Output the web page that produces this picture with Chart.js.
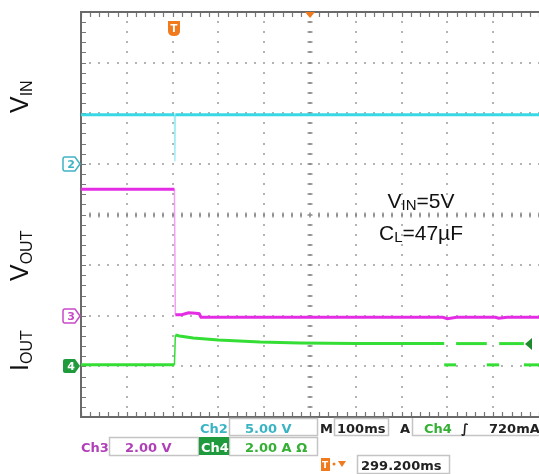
<!DOCTYPE html>
<html>
<head>
<meta charset="utf-8">
<script src="https://cdn.jsdelivr.net/npm/chart.js@4.4.1/dist/chart.umd.min.js"></script>
<style>
  body { margin: 0; background: #fff; }
  #scope { display: block; }
</style>
</head>
<body>
<canvas id="scope" width="539" height="474"></canvas>
<script>
// ------------- TRACE DATA (time in ms, level in screen divisions from the bottom)
const timeVin = [0, 204, 205, 206, 1000];
const vin = [5.97, 5.97, 5.05, 5.97, 5.97];

const timeVout = [0, 204, 206, 220, 235, 250, 258, 262, 500, 790, 800, 820, 905, 912, 930, 1000];
const vout = [4.5, 4.5, 2.02, 2.02, 2.06, 2.05, 2.04, 1.97, 1.97, 1.97, 1.94, 1.97, 1.97, 1.95, 1.97, 1.97];

// null = no trace drawn (the scope jumps between the two current levels)
const timeIout = [0, 204, 206, 215, 245, 300, 391, 478, 600, 793, 793, 793, 819, 819, 819, 886, 886, 886, 913, 913, 913, 967, 967, 967, 1000];
const iout = [1.03, 1.03, 1.62, 1.6, 1.56, 1.52, 1.48, 1.46, 1.45, 1.45, null, 1.03, 1.03, null, 1.45, 1.45, null, 1.03, 1.03, null, 1.45, 1.45, null, 1.03, 1.03];

// ------------- CHANNEL MARKERS / SETTINGS
const channelNames = ['2', '3', '4'];
const channelGround = [5, 2, 1];
const triggerTime = 204;
const triggerLevel = 1.45;

const cyan = 'rgb(56, 216, 230)';
const magenta = 'rgb(228, 44, 228)';
const green = 'rgb(52, 222, 52)';
const orange = 'rgb(240, 122, 30)';

function toXY(xs, ys) {
  return xs.map(function (x, i) { return { x: x, y: ys[i] }; });
}

// ---------- GRATICULE (dotted grid, frame, minor ticks)
const graticule = {
  id: 'graticule',
  beforeDatasetsDraw(chart) {
    const c = chart.ctx, ca = chart.chartArea;
    const sx = chart.scales.x, sy = chart.scales.y;
    c.save();
    c.fillStyle = '#b4b4b4';
    for (let i = 1; i < 10; i++) {
      if (i === 5) continue;
      const px = Math.round(sx.getPixelForValue(i * 100));
      for (let j = 0; j <= 40; j++) {
        c.fillRect(px - 1, Math.round(sy.getPixelForValue(j * 0.2)) - 1, 2, 2);
      }
    }
    for (let j = 1; j < 8; j++) {
      if (j === 4) continue;
      const py = Math.round(sy.getPixelForValue(j));
      for (let i = 0; i <= 50; i++) {
        c.fillRect(Math.round(sx.getPixelForValue(i * 20)) - 1, py - 1, 2, 2);
      }
    }
    // center cross with ticks
    c.strokeStyle = '#8a8a8a';
    c.lineWidth = 1.5;
    const cx = Math.round(sx.getPixelForValue(500)), cy = Math.round(sy.getPixelForValue(4));
    c.beginPath();
    for (let i = 0; i <= 50; i++) {
      const px = Math.round(sx.getPixelForValue(i * 20));
      c.moveTo(px, cy - 2.5); c.lineTo(px, cy + 2.5);
      c.moveTo(px - 1, cy); c.lineTo(px + 1, cy);
    }
    for (let j = 0; j <= 40; j++) {
      const py = Math.round(sy.getPixelForValue(j * 0.2));
      c.moveTo(cx - 2.5, py); c.lineTo(cx + 2.5, py);
      c.moveTo(cx, py - 1); c.lineTo(cx, py + 1);
    }
    c.stroke();
    // frame ticks
    c.strokeStyle = '#777';
    c.lineWidth = 1.2;
    c.beginPath();
    for (let i = 0; i <= 50; i++) {
      const px = Math.round(sx.getPixelForValue(i * 20)) + 0.5;
      c.moveTo(px, ca.top); c.lineTo(px, ca.top + 5);
      c.moveTo(px, ca.bottom); c.lineTo(px, ca.bottom - 5);
    }
    for (let j = 0; j <= 40; j++) {
      const py = Math.round(sy.getPixelForValue(j * 0.2)) + 0.5;
      c.moveTo(ca.left, py); c.lineTo(ca.left + 5, py);
    }
    c.stroke();
    // frame
    c.strokeStyle = '#6a6a6a';
    c.lineWidth = 2;
    c.beginPath();
    c.moveTo(ca.right, ca.top); c.lineTo(ca.left, ca.top); c.lineTo(ca.left, ca.bottom); c.lineTo(ca.right, ca.bottom);
    c.stroke();
    c.restore();
  }
};

// ---------- TEXT WITH SUBSCRIPTS
function runs(c, x, y, parts) {
  let px = x;
  parts.forEach(function (p) {
    c.font = p[1] + 'px "Liberation Sans", Arial, sans-serif';
    c.fillText(p[0], px, y + (p[2] || 0));
    px += c.measureText(p[0]).width;
  });
  return px - x;
}
function runsWidth(c, parts) {
  let w = 0;
  parts.forEach(function (p) {
    c.font = p[1] + 'px "Liberation Sans", Arial, sans-serif';
    w += c.measureText(p[0]).width;
  });
  return w;
}

function chanMarker(c, x, y, col, filled, txt) {
  c.save();
  c.beginPath();
  c.moveTo(x + 2, y - 7); c.lineTo(x + 12, y - 7); c.lineTo(x + 17, y); c.lineTo(x + 12, y + 7);
  c.lineTo(x + 2, y + 7); c.quadraticCurveTo(x, y + 7, x, y + 5); c.lineTo(x, y - 5); c.quadraticCurveTo(x, y - 7, x + 2, y - 7);
  c.closePath();
  if (filled) { c.fillStyle = col; c.fill(); } else { c.fillStyle = '#fff'; c.fill(); c.strokeStyle = col; c.lineWidth = 1.5; c.stroke(); }
  c.fillStyle = filled ? '#fff' : col;
  c.font = 'bold 11px "DejaVu Sans", sans-serif';
  c.textAlign = 'center';
  c.textBaseline = 'middle';
  c.fillText(txt, x + 8, y + 1);
  c.restore();
}

function box(c, x1, y1, x2, y2) {
  c.strokeRect(x1 + 0.5, y1 + 0.5, x2 - x1, y2 - y1);
}

// ---------- LABELS, MARKERS AND STATUS BAR
const overlay = {
  id: 'overlay',
  afterDraw(chart) {
    const c = chart.ctx;
    const sx = chart.scales.x, sy = chart.scales.y;
    c.save();
    c.fillStyle = '#111';
    c.textBaseline = 'alphabetic';
    c.textAlign = 'left';

    // rotated signal names
    [[113, [['V', 25], ['IN', 16, 4]]], [281, [['V', 25], ['OUT', 16, 4]]], [371, [['I', 25], ['OUT', 16, 4]]]].forEach(function (l) {
      c.save();
      c.translate(28, l[0]);
      c.rotate(-Math.PI / 2);
      runs(c, 0, 0, l[1]);
      c.restore();
    });

    // annotation
    const a1 = [['V', 21], ['IN', 15, 2], ['=5V', 21]];
    const a2 = [['C', 21], ['L', 15, 2], ['=47\u00b5F', 21]];
    runs(c, 421 - runsWidth(c, a1) / 2, 208, a1);
    runs(c, 421 - runsWidth(c, a2) / 2, 240, a2);

    // channel ground markers
    const cols = [cyan, '#c84cc8', '#1f9a3c'];
    channelNames.forEach(function (n, i) {
      chanMarker(c, 63, Math.round(sy.getPixelForValue(channelGround[i])), i === 0 ? '#40b4c4' : cols[i], i === 2, n);
    });

    // trigger marker (top)
    const tx = Math.round(sx.getPixelForValue(triggerTime));
    c.fillStyle = orange;
    c.beginPath();
    c.moveTo(tx - 6, 21); c.lineTo(tx + 6, 21); c.lineTo(tx + 6, 31); c.quadraticCurveTo(tx + 6, 36, tx, 36); c.quadraticCurveTo(tx - 6, 36, tx - 6, 31);
    c.closePath(); c.fill();
    c.fillStyle = '#fff';
    c.font = 'bold 10px "DejaVu Sans", sans-serif';
    c.textAlign = 'center';
    c.fillText('T', tx, 32);
    // center position marker
    const mx = Math.round(sx.getPixelForValue(500));
    c.fillStyle = orange;
    c.beginPath(); c.moveTo(mx - 5, 12); c.lineTo(mx + 5, 12); c.lineTo(mx, 18); c.closePath(); c.fill();
    // trigger level marker (right)
    const ly = Math.round(sy.getPixelForValue(triggerLevel));
    c.fillStyle = '#1f8a2c';
    c.beginPath(); c.moveTo(525, ly); c.lineTo(532, ly - 6); c.lineTo(532, ly + 6); c.closePath(); c.fill();

    // status bar
    c.textAlign = 'left';
    c.font = 'bold 13px "DejaVu Sans", sans-serif';
    c.strokeStyle = '#c4c4c4';
    c.lineWidth = 1.5;
    box(c, 229, 418, 317, 435);
    box(c, 334, 418, 388, 435);
    box(c, 109, 437, 198, 455);
    box(c, 229, 437, 317, 455);
    box(c, 357, 455, 449, 473);
    c.beginPath(); c.moveTo(412.5, 418); c.lineTo(412.5, 435.5); c.lineTo(539, 435.5); c.stroke();
    c.fillStyle = '#1f9a3c';
    c.fillRect(199, 437, 30, 18);

    const teal = '#3ab4c4', purple = '#b040b8', gtxt = '#34b034', dark = '#222';
    [['Ch2', 200, 433, teal], ['5.00 V', 245, 433, teal], ['M', 320, 433, dark], ['100ms', 337, 433, dark],
     ['A', 400, 433, dark], ['Ch4', 424, 433, gtxt], ['\u222b', 461, 433, dark], ['720mA', 489, 433, dark],
     ['Ch3', 81, 452, purple], ['2.00 V', 125, 452, purple], ['Ch4', 201, 452, '#fff'], ['2.00 A \u03a9', 245, 452, gtxt],
     ['299.200ms', 361, 470, dark]].forEach(function (t) {
      c.fillStyle = t[3];
      c.fillText(t[0], t[1], t[2]);
    });
    // time offset icon
    c.fillStyle = orange;
    c.fillRect(321, 458, 9, 13);
    c.fillStyle = '#fff';
    c.font = 'bold 9px "DejaVu Sans", sans-serif';
    c.fillText('T', 322, 468);
    c.fillStyle = orange;
    c.beginPath(); c.arc(334, 464, 1.5, 0, Math.PI * 2); c.fill();
    c.beginPath(); c.moveTo(338, 461); c.lineTo(346, 461); c.lineTo(342, 467); c.closePath(); c.fill();
    c.restore();
  }
};

// ---------- CHART
const ctx = document.getElementById('scope').getContext('2d');
const myChartScope = new Chart(ctx, {
  type: 'line',
  data: {
    datasets: [
      {
        label: 'IOUT',
        data: toXY(timeIout, iout),
        borderColor: green,
        borderWidth: 3,
        pointRadius: 0,
        spanGaps: false,
        segment: {
          borderWidth: function (s) { return s.p0DataIndex === 1 ? 1.5 : undefined; }
        }
      },
      {
        label: 'VOUT',
        data: toXY(timeVout, vout),
        borderColor: magenta,
        borderWidth: 3,
        pointRadius: 0,
        segment: {
          borderColor: function (s) { return s.p0DataIndex === 1 ? 'rgba(228, 44, 228, 0.45)' : undefined; },
          borderWidth: function (s) { return s.p0DataIndex === 1 ? 1.5 : undefined; }
        }
      },
      {
        label: 'VIN',
        data: toXY(timeVin, vin),
        borderColor: cyan,
        borderWidth: 3,
        pointRadius: 0,
        segment: {
          borderColor: function (s) { return (s.p0DataIndex === 1 || s.p0DataIndex === 2) ? 'rgba(56, 216, 230, 0.45)' : undefined; },
          borderWidth: function (s) { return (s.p0DataIndex === 1 || s.p0DataIndex === 2) ? 1.5 : undefined; }
        }
      }
    ]
  },
  options: {
    responsive: false,
    animation: false,
    events: [],
    layout: { padding: { left: 81, top: 12, right: 0, bottom: 57 } },
    scales: {
      x: { type: 'linear', min: 0, max: 1000, display: false },
      y: { type: 'linear', min: 0, max: 8, display: false }
    },
    plugins: {
      legend: { display: false },
      tooltip: { enabled: false }
    }
  },
  plugins: [graticule, overlay]
});
</script>
</body>
</html>
